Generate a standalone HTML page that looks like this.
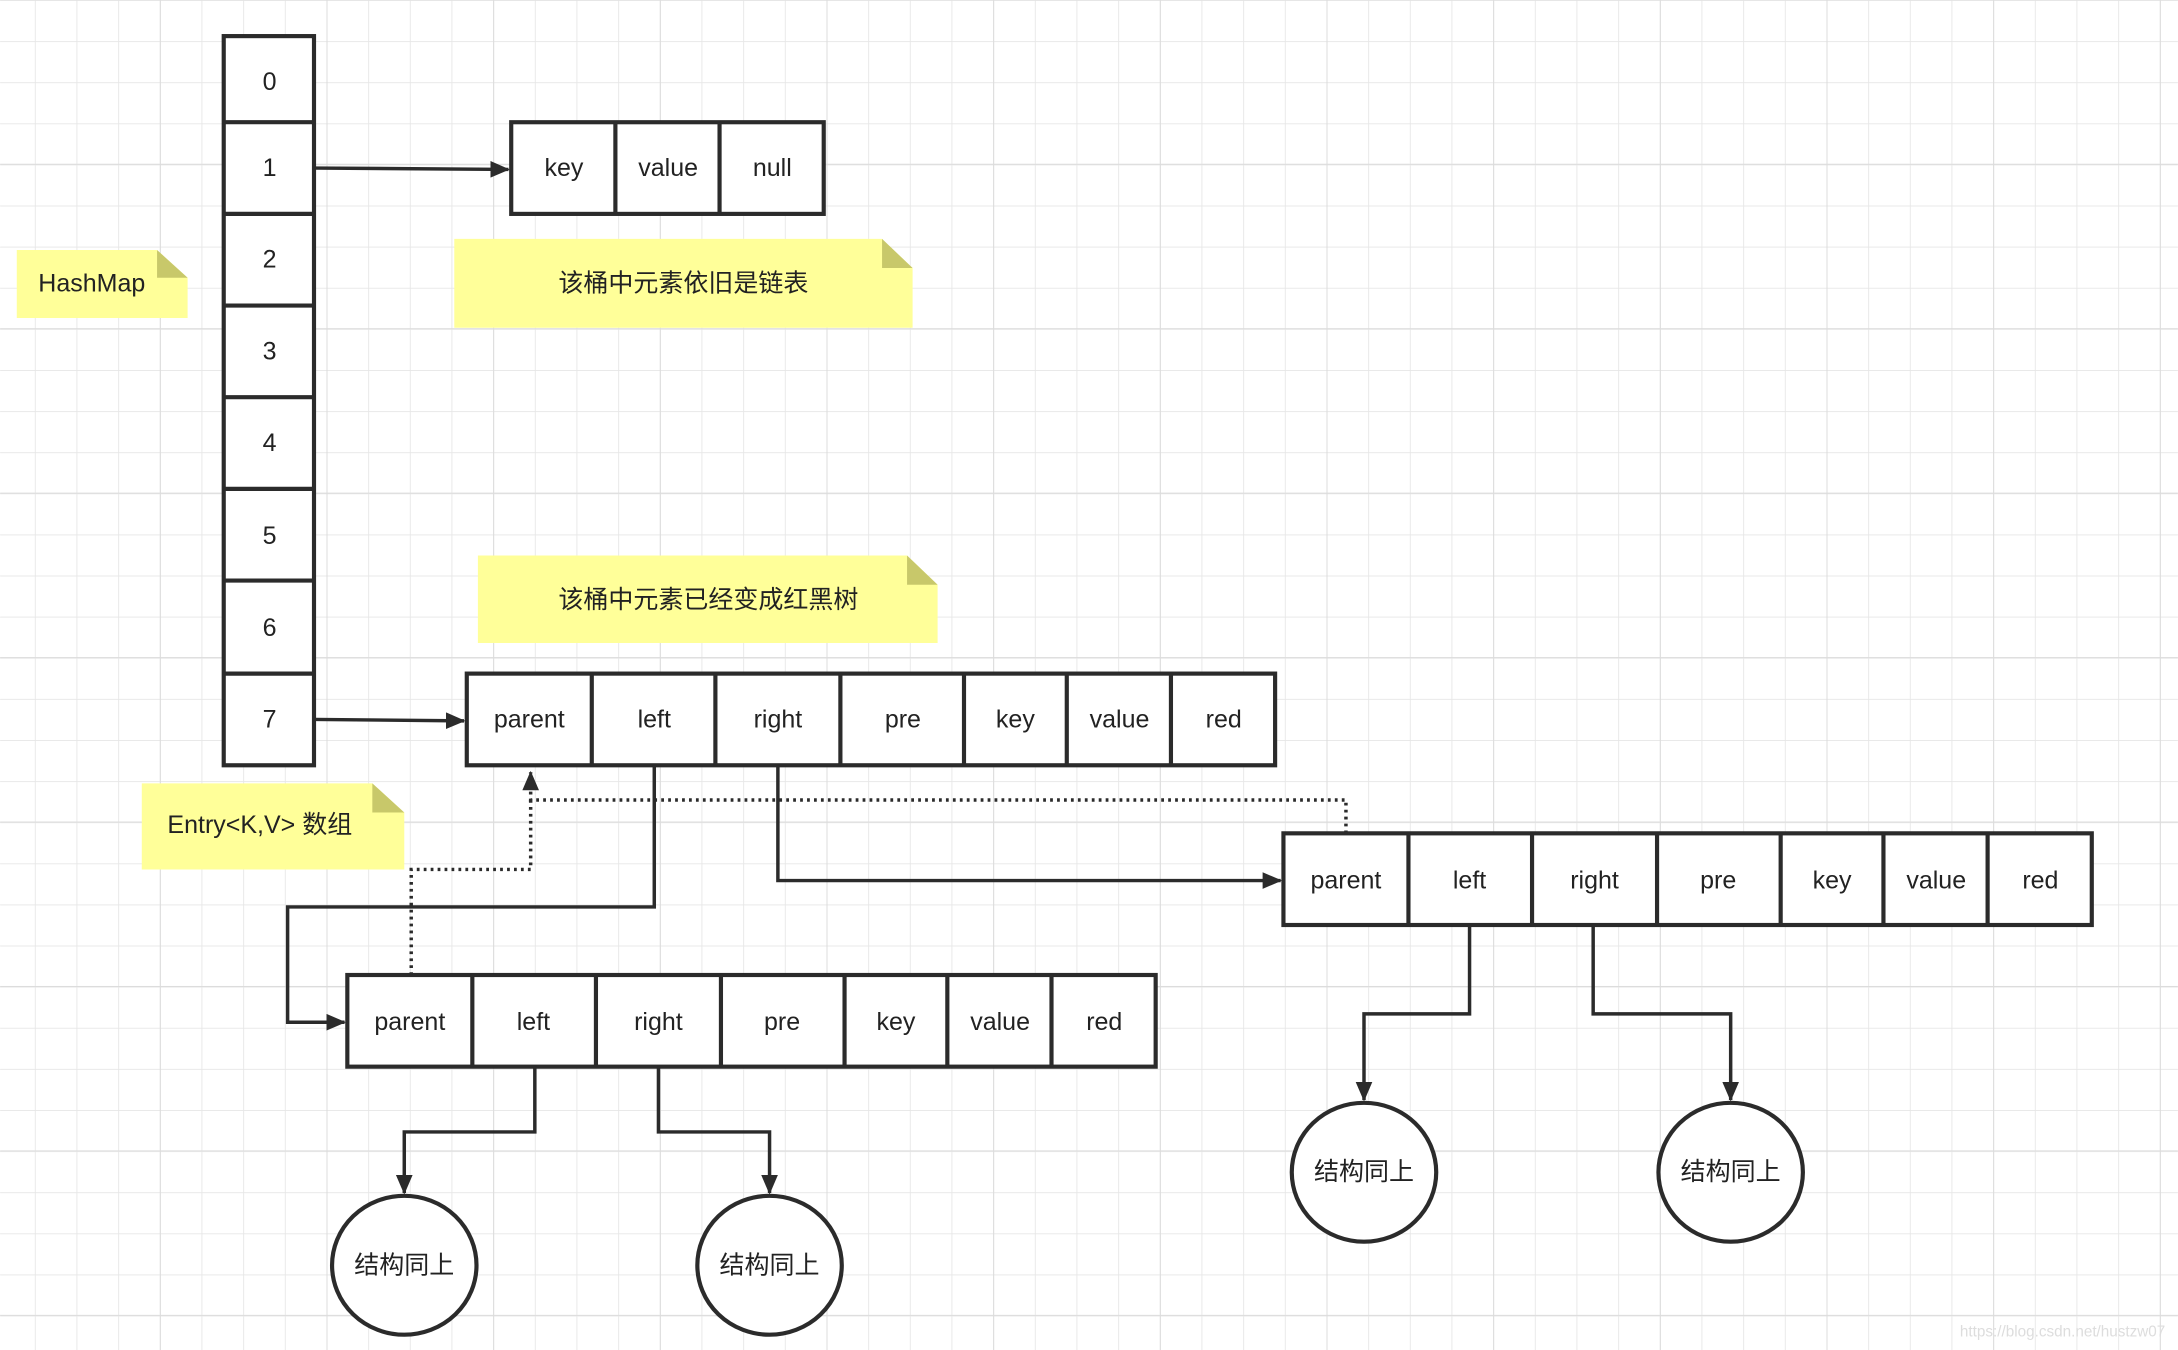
<!DOCTYPE html>
<html><head><meta charset="utf-8"><style>
html,body{margin:0;padding:0;background:#fff;}
svg{display:block;}
text{font-family:"Liberation Sans","Noto Sans CJK SC",sans-serif;font-size:18px;fill:#222;text-anchor:middle;dominant-baseline:central;}
</style></head><body>
<svg width="2178" height="1350" viewBox="0 0 1568 972" xmlns="http://www.w3.org/2000/svg">
<defs>
<pattern id="g" x="25" y="0" width="30" height="29.6" patternUnits="userSpaceOnUse">
<path d="M0 0V29.6M0 0H30" stroke="#e6e6e6" stroke-width="1.2" fill="none"/>
</pattern>
<pattern id="G" x="115" y="-0.5" width="120" height="118.4" patternUnits="userSpaceOnUse">
<path d="M0 0V118.4M0 0H120" stroke="#dcdcdc" stroke-width="1.4" fill="none"/>
</pattern>
<marker id="a" markerWidth="14" markerHeight="12" refX="13" refY="6" orient="auto" markerUnits="userSpaceOnUse" viewBox="0 0 14 12"><path d="M0 0L14 6L0 12Z" fill="#2b2b2b"/></marker>
<marker id="ad" markerWidth="14" markerHeight="12" refX="13" refY="6" orient="auto" markerUnits="userSpaceOnUse" viewBox="0 0 14 12"><path d="M0 0L14 6L0 12Z" fill="#2b2b2b"/></marker>
</defs>
<rect width="1568" height="972" fill="#fff"/>
<rect width="1568" height="972" fill="url(#g)"/>
<rect width="1568" height="972" fill="url(#G)"/>

<g>
<path d="M12 180H113L135 200V229H12Z" fill="#ffff99"/><path d="M113 180L135 200H113Z" fill="#c8c86a"/>
<text x="66" y="204">HashMap</text>
<path d="M327 172H635L657 193V236H327Z" fill="#ffff99"/><path d="M635 172L657 193H635Z" fill="#c8c86a"/>
<text x="492" y="204">该桶中元素依旧是链表</text>
<path d="M344 400H653L675 421V463H344Z" fill="#ffff99"/><path d="M653 400L675 421H653Z" fill="#c8c86a"/>
<text x="510" y="432">该桶中元素已经变成红黑树</text>
<path d="M102 564H268L291 585V626H102Z" fill="#ffff99"/><path d="M268 564L291 585H268Z" fill="#c8c86a"/>
<text x="187" y="594">Entry&lt;K,V&gt; 数组</text>
</g>

<g stroke="#2b2b2b" stroke-width="3" fill="#fff">
<rect x="161" y="26" width="65" height="525"/>
<path d="M161 88H226M161 154H226M161 220H226M161 286H226M161 352H226M161 418H226M161 485H226" fill="none"/>
<rect x="368" y="88" width="225" height="66"/>
<path d="M443 88V154M518 88V154" fill="none"/>
<rect x="336" y="485" width="582" height="66"/>
<path d="M426 485V551M515 485V551M605 485V551M694 485V551M768 485V551M843 485V551" fill="none"/>
<rect x="924" y="600" width="582" height="66"/>
<path d="M1014 600V666M1103 600V666M1193 600V666M1282 600V666M1356 600V666M1431 600V666" fill="none"/>
<rect x="250" y="702" width="582" height="66"/>
<path d="M340 702V768M429 702V768M519 702V768M608 702V768M682 702V768M757 702V768" fill="none"/>
<ellipse cx="291" cy="911" rx="52" ry="50"/>
<ellipse cx="554" cy="911" rx="52" ry="50"/>
<ellipse cx="982" cy="844" rx="52" ry="50"/>
<ellipse cx="1246" cy="844" rx="52" ry="50"/>
</g>

<g stroke="#2b2b2b" stroke-width="2.5" fill="none">
<path d="M227 121L366 122" marker-end="url(#a)"/>
<path d="M227 518L334 519" marker-end="url(#a)"/>
<path d="M471 551V653H207V736H248" marker-end="url(#a)"/>
<path d="M560 551V634H922" marker-end="url(#a)"/>
<path d="M385 768V815H291V859" marker-end="url(#a)"/>
<path d="M474 768V815H554V859" marker-end="url(#a)"/>
<path d="M1058 666V730H982V792" marker-end="url(#a)"/>
<path d="M1147 666V730H1246V792" marker-end="url(#a)"/>
</g>
<g stroke="#2b2b2b" stroke-width="2.5" fill="none" stroke-dasharray="2 3">
<path d="M969 600V576H382V556" marker-end="url(#ad)"/>
<path d="M296 702V626H382V576"/>
</g>

<g>
<text x="194" y="59">0</text><text x="194" y="121">1</text><text x="194" y="187">2</text><text x="194" y="253">3</text>
<text x="194" y="319">4</text><text x="194" y="386">5</text><text x="194" y="452">6</text><text x="194" y="518">7</text>
<text x="406" y="121">key</text><text x="481" y="121">value</text><text x="556" y="121">null</text>
<text x="381" y="518">parent</text><text x="471" y="518">left</text><text x="560" y="518">right</text><text x="650" y="518">pre</text><text x="731" y="518">key</text><text x="806" y="518">value</text><text x="881" y="518">red</text>
<text x="969" y="634">parent</text><text x="1058" y="634">left</text><text x="1148" y="634">right</text><text x="1237" y="634">pre</text><text x="1319" y="634">key</text><text x="1394" y="634">value</text><text x="1469" y="634">red</text>
<text x="295" y="736">parent</text><text x="384" y="736">left</text><text x="474" y="736">right</text><text x="563" y="736">pre</text><text x="645" y="736">key</text><text x="720" y="736">value</text><text x="795" y="736">red</text>
<text x="291" y="911">结构同上</text><text x="554" y="911">结构同上</text><text x="982" y="844">结构同上</text><text x="1246" y="844">结构同上</text>
<text x="1485" y="959" style="font-size:11px;fill:#ddd">https://blog.csdn.net/hustzw07</text>
</g>
</svg>
</body></html>
